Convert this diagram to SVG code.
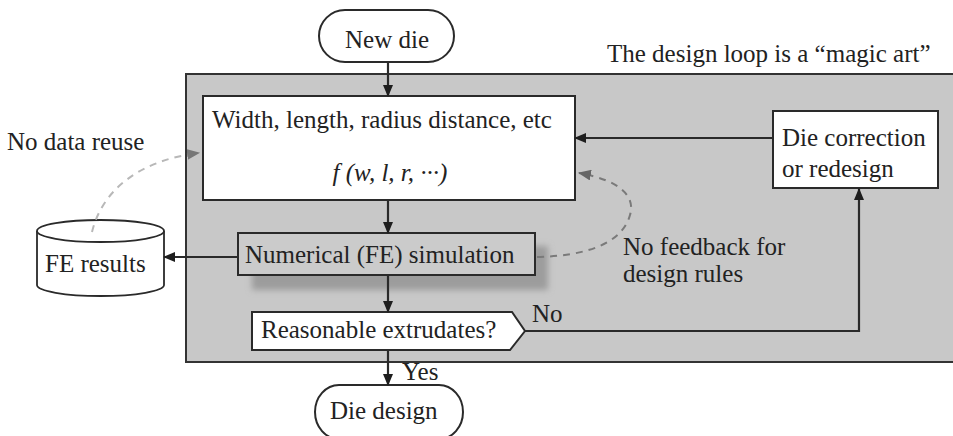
<svg xmlns="http://www.w3.org/2000/svg" width="953" height="436" viewBox="0 0 953 436">
  <style>
    text { font-family: "Liberation Serif", "Times New Roman", "DejaVu Serif", serif; font-size: 25px; fill: #222; }
    .box { fill: #fff; stroke: #2a2a2a; stroke-width: 2; }
    .flow { fill: none; stroke: #2a2a2a; stroke-width: 2.2; }
    .dash-light { fill: none; stroke: #b8b8b8; stroke-width: 2; stroke-dasharray: 7 6; }
    .dash-dark { fill: none; stroke: #7a7a7a; stroke-width: 2; stroke-dasharray: 7 6; }
  </style>
  <defs>
    <marker id="arrow" viewBox="0 0 12 10" refX="11" refY="5" markerWidth="12" markerHeight="10" markerUnits="userSpaceOnUse" orient="auto">
      <path d="M0,0 L12,5 L0,10 Z" fill="#1e1e1e"/>
    </marker>
    <marker id="arrow-light" viewBox="0 0 12 10" refX="11" refY="5" markerWidth="13" markerHeight="11" markerUnits="userSpaceOnUse" orient="auto">
      <path d="M0,0 L12,5 L0,10 Z" fill="#777"/>
    </marker>
    <marker id="arrow-dark" viewBox="0 0 12 10" refX="11" refY="5" markerWidth="13" markerHeight="11" markerUnits="userSpaceOnUse" orient="auto">
      <path d="M0,0 L12,5 L0,10 Z" fill="#666"/>
    </marker>
    <filter id="soft" x="-20%" y="-40%" width="140%" height="180%">
      <feGaussianBlur stdDeviation="3"/>
    </filter>
  </defs>

  <!-- design loop panel -->
  <g id="loop-panel">
    <rect x="186" y="74" width="780" height="288" fill="#c8c8c8" stroke="#333" stroke-width="2"/>
    <text x="607" y="62">The design loop is a “magic art”</text>
  </g>

  <g id="new-die">
    <rect class="box" x="319" y="10" width="135" height="52" rx="26" ry="26"/>
    <text x="387" y="48" text-anchor="middle">New die</text>
  </g>

  <g id="parameters">
    <rect class="box" x="203" y="96" width="372" height="104"/>
    <text x="212" y="128">Width, length, radius distance, etc</text>
    <text x="390" y="181" text-anchor="middle" font-style="italic" font-size="27">f (w, l, r, ···)</text>
  </g>

  <g id="die-correction">
    <rect class="box" x="773" y="111" width="165" height="77"/>
    <text x="782" y="146">Die correction</text>
    <text x="782" y="177">or redesign</text>
  </g>

  <g id="fe-simulation">
    <rect x="252" y="246" width="296" height="44" fill="#9c9c9c" filter="url(#soft)"/>
    <rect x="238" y="233" width="297" height="42" fill="#cbcbcb" stroke="#2a2a2a" stroke-width="2"/>
    <text x="245" y="263">Numerical (FE) simulation</text>
  </g>

  <g id="fe-results">
    <path d="M37,231 L37,285 A63.5,11 0 0 0 164,285 L164,231" fill="#fff" stroke="#2a2a2a" stroke-width="1.8"/>
    <ellipse cx="100.5" cy="231" rx="63.5" ry="11" fill="#fff" stroke="#2a2a2a" stroke-width="1.8"/>
    <text x="45" y="272">FE results</text>
  </g>

  <g id="reasonable">
    <path class="box" d="M252,312 L512,312 L525,331 L510,350 L252,350 Z"/>
    <text x="261" y="338">Reasonable extrudates?</text>
  </g>

  <g id="die-design">
    <path class="box" d="M339,385 L439,385 A24,27 0 0 1 439,439 L339,439 A24,27 0 0 1 339,385 Z"/>
    <text x="330" y="419">Die design</text>
  </g>

  <!-- connectors -->
  <g id="connectors">
    <line class="flow" x1="388" y1="62" x2="388" y2="96" marker-end="url(#arrow)"/>
    <line class="flow" x1="388" y1="200" x2="388" y2="233" marker-end="url(#arrow)"/>
    <line class="flow" x1="388" y1="275" x2="388" y2="312" marker-end="url(#arrow)"/>
    <line class="flow" x1="388" y1="350" x2="388" y2="385" marker-end="url(#arrow)"/>
    <line class="flow" x1="238" y1="257" x2="164" y2="257" marker-end="url(#arrow)"/>
    <line class="flow" x1="773" y1="138" x2="575" y2="138" marker-end="url(#arrow)"/>
    <polyline class="flow" points="525,331 859,331 859,189" marker-end="url(#arrow)"/>
    <path class="dash-light" d="M92,232 C102,190 140,160 199,153" marker-end="url(#arrow-light)"/>
    <path class="dash-dark" d="M537,257 C585,256 622,244 630,215 C636,195 618,180 579,173" marker-end="url(#arrow-dark)"/>
    <text x="7" y="150">No data reuse</text>
    <text x="623" y="255">No feedback for</text>
    <text x="623" y="282">design rules</text>
    <text x="532" y="322">No</text>
    <text x="402" y="380">Yes</text>
  </g>
</svg>
